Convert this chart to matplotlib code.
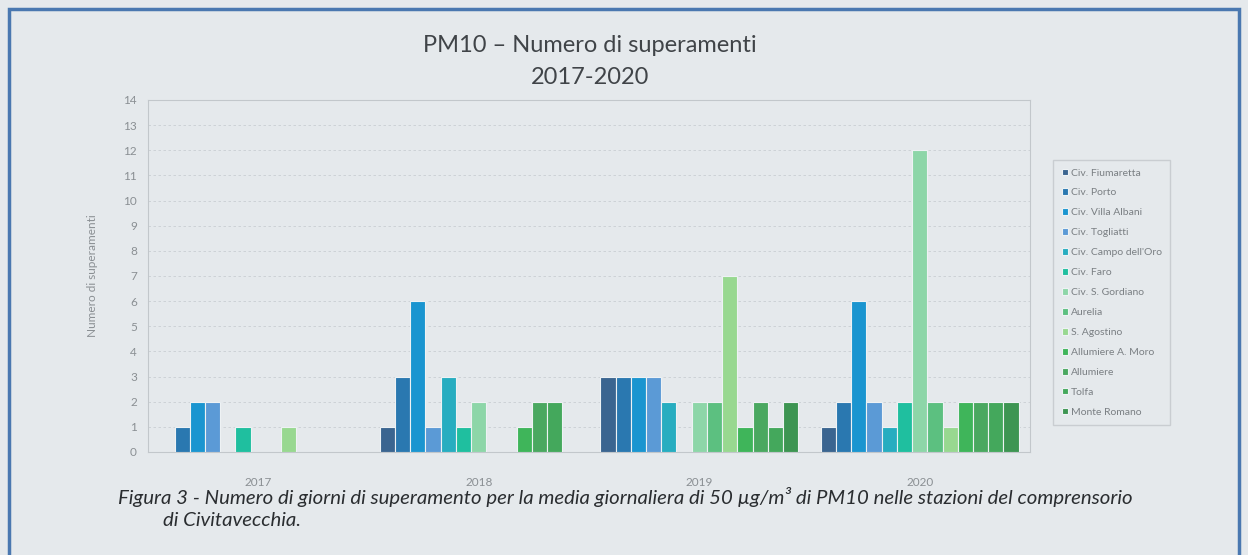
import matplotlib.pyplot as plt
import matplotlib.patches as mpatches
import numpy as np

years = ['2017', '2018', '2019', '2020']
stations = ['Civ. Fiumaretta', 'Civ. Porto', 'Civ. Villa Albani', 'Civ. Togliatti',
            "Civ. Campo dell'Oro", 'Civ. Faro', 'Civ. S. Gordiano', 'Aurelia',
            'S. Agostino', 'Allumiere A. Moro', 'Allumiere', 'Tolfa', 'Monte Romano']
# one list per station: values for 2017, 2018, 2019, 2020
fiumaretta = [0, 1, 3, 1]
porto = [1, 3, 3, 2]
villa_albani = [2, 6, 3, 6]
togliatti = [2, 1, 3, 2]
campo_oro = [0, 3, 2, 1]
faro = [1, 1, 0, 2]
s_gordiano = [0, 2, 2, 12]
aurelia = [0, 0, 2, 2]
s_agostino = [1, 0, 7, 1]
allumiere_moro = [0, 1, 1, 2]
allumiere = [0, 2, 2, 2]
tolfa = [0, 2, 1, 2]
monte_romano = [0, 0, 2, 2]
values = [fiumaretta, porto, villa_albani, togliatti, campo_oro, faro, s_gordiano,
          aurelia, s_agostino, allumiere_moro, allumiere, tolfa, monte_romano]
colors = ['#3b6590', '#2a78b0', '#1a95d0', '#5b9ad6', '#27adc0', '#1fbf9f', '#8dd6a8',
          '#5cc080', '#98d890', '#3fb55a', '#4aa860', '#44a85c', '#3d9552']

bg = '#e5e9ec'
plt.rcParams['font.family'] = ['Lato', 'DejaVu Sans']

fig = plt.figure(figsize=(12.48, 5.55), dpi=100, facecolor=bg)
fig.patches.append(mpatches.Rectangle((9 / 1248, -0.02), 1230 / 1248, 1 - 9 / 555 + 0.02,
                                      transform=fig.transFigure, fill=False,
                                      edgecolor='#4a78b0', linewidth=2.5))
ax = fig.add_axes([148 / 1248, 1 - 452 / 555, 882 / 1248, 352 / 555])
ax.set_facecolor(bg)

x = np.arange(len(years))
w = 0.069
for i, (name, vals, c) in enumerate(zip(stations, values, colors)):
    ax.bar(x - 6 * w + i * w, vals, width=w, color=c, edgecolor='#eef2f4',
           linewidth=0.8, label=name, zorder=3)

ax.set_xlim(-0.5, 3.5)
ax.set_ylim(0, 14)
ax.set_yticks(range(0, 15))
ax.set_xticks(x)
ax.set_xticklabels(years)
ax.tick_params(length=0, colors='#8a8f93', labelsize=8.5)
ax.tick_params(axis='x', pad=18)
ax.tick_params(axis='y', pad=8)
ax.grid(axis='y', color='#c9ced2', linestyle=(0, (3, 3)), linewidth=0.6, zorder=0)
for s in ax.spines.values():
    s.set_color('#c2c7cb')
    s.set_linewidth(0.8)
ax.set_ylabel('Numero di superamenti', color='#8a8f93', fontsize=8.5, labelpad=18)

fig.text(590 / 1248, 1 - 45 / 555, 'PM10 – Numero di superamenti', ha='center', va='center',
         fontsize=17, color='#404448')
fig.text(590 / 1248, 1 - 77 / 555, '2017-2020', ha='center', va='center',
         fontsize=17, color='#404448')

leg = ax.legend(loc='upper left', bbox_to_anchor=(1048 / 1248, 1 - 155 / 555),
                bbox_transform=fig.transFigure, fontsize=7.5, frameon=True,
                handlelength=0.6, handleheight=0.6, handletextpad=0.3,
                labelspacing=1.05, borderpad=0.8, labelcolor='#7a7f83')
leg.get_frame().set_facecolor(bg)
leg.get_frame().set_edgecolor('#c2c7cb')
leg.get_frame().set_boxstyle('square', pad=0)

fig.text(118 / 1248, 1 - 497 / 555,
         'Figura 3 - Numero di giorni di superamento per la media giornaliera di 50 µg/m³ di PM10 nelle stazioni del comprensorio',
         ha='left', va='center', fontsize=14.7, style='italic', color='#2a2d30')
fig.text(163 / 1248, 1 - 520 / 555, 'di Civitavecchia.', ha='left', va='center',
         fontsize=14.7, style='italic', color='#2a2d30')

fig.savefig('out.png', dpi=100, facecolor=bg)
